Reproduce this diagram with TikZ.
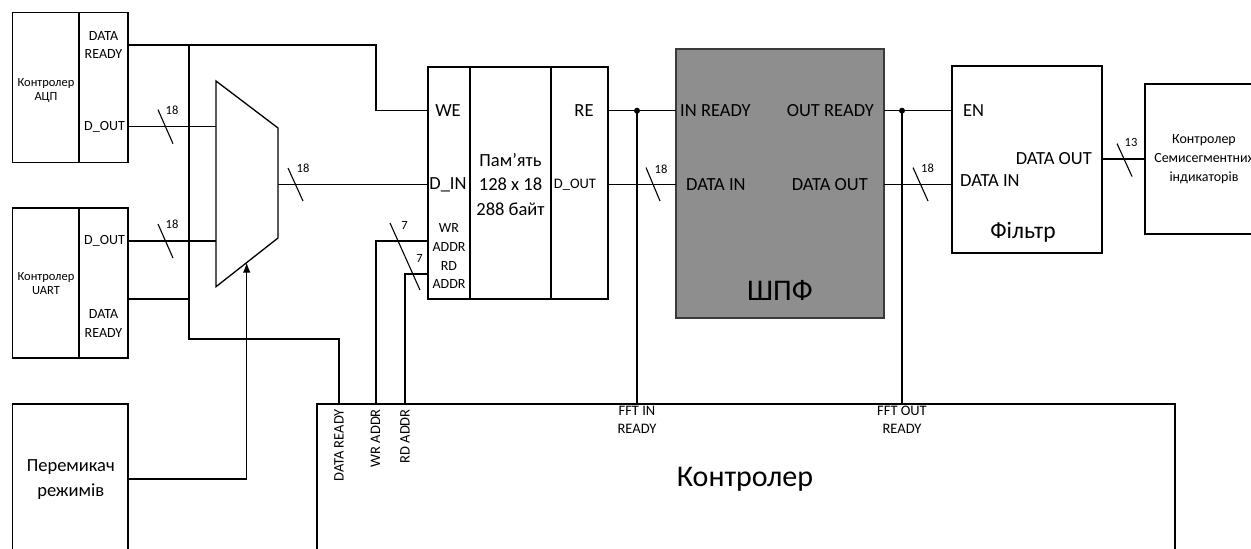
\documentclass[tikz,border=0pt]{standalone}
\usepackage{fontspec}
\setmainfont{Carlito}
\usetikzlibrary{arrows.meta}
\definecolor{fftgray}{HTML}{8E8E8E}
\definecolor{fftborder}{HTML}{3A3A3A}
\begin{document}
\begin{tikzpicture}[x=1pt,y=-1pt,
  blk/.style={draw=black, line width=1.3pt, inner sep=0pt, outer sep=0pt},
  divider/.style={draw=black, line width=1.3pt},
  wire/.style={draw=black, line width=1.1pt},
  busmark/.style={draw=black, line width=1.1pt},
  lbl/.style={inner sep=0pt, align=center},
  fsm/.style={lbl, font=\fontsize{12.5}{14}\selectfont},
  fnum/.style={lbl, font=\fontsize{12.5}{14}\selectfont},
  fmid/.style={lbl, font=\fontsize{14}{18.5}\selectfont},
  fctl/.style={lbl, font=\fontsize{14.5}{18}\selectfont},
  fbig/.style={lbl, font=\fontsize{18.5}{24.5}\selectfont},
  fhuge/.style={lbl, font=\fontsize{30}{34}\selectfont},
  dotc/.style={fill=black}
]
\useasboundingbox (0,0) rectangle (1251,549);
\clip (0,0) rectangle (1251,549);

% ---------- blocks ----------
\node[blk, minimum width=115.3pt, minimum height=150pt] (adc) at (70.35,87.7) {};
\draw[divider] (79,12.7) -- (79,162.7);
\node[fsm] (adcname) at (46,90) {Контролер\\АЦП};
\node[fmid] (adcdrl) at (103.5,45) {DATA\\READY};
\node[fmid] (adcdol) at (104.5,126.7) {D\_OUT};

\node[blk, minimum width=115.3pt, minimum height=150pt] (uart) at (70.35,283) {};
\draw[divider] (79,208) -- (79,358);
\node[fsm] (uartname) at (46,284) {Контролер\\UART};
\node[fmid] (uartdol) at (104.5,241) {D\_OUT};
\node[fmid] (uartdrl) at (103.5,323.5) {DATA\\READY};

\node[blk, minimum width=115.3pt, minimum height=156pt] (sw) at (70.35,482) {};
\node[fbig] (swname) at (70.8,479.5) {Перемикач\\режимів};

% multiplexer
\draw[blk] (216,81) -- (278,128) -- (278,238) -- (216,286.7) -- cycle;
\coordinate (muxin1) at (216,126.7);
\coordinate (muxin2) at (216,241);
\coordinate (muxout) at (278,184.5);
\coordinate (muxsel) at (246.7,262.6);

% memory
\node[blk, minimum width=180pt, minimum height=232pt] (mem) at (518,183) {};
\draw[divider] (470,67) -- (470,299);
\draw[divider] (551,67) -- (551,299);
\node[fbig] (memwe) at (448,110.7) {WE};
\node[fbig] (memdin) at (448,184.5) {D\_IN};
\node[fmid] (memwr) at (449,237.5) {WR\\ADDR};
\node[fmid] (memrd) at (449,275) {RD\\ADDR};
\node[fbig] (memname) at (510.5,184.5) {Пам’ять\\128 x 18\\288 байт};
\node[fbig] (memre) at (584,110.7) {RE};
\node[fctl] (memdol) at (575,184.5) {D\_OUT};

% FFT
\node[draw=fftborder, fill=fftgray, line width=2pt, inner sep=0pt, minimum width=208pt, minimum height=269pt] (fft) at (780,183.5) {};
\node[fbig, anchor=west] (fftir) at (680,110.7) {IN READY};
\node[fbig, anchor=west] (fftdi) at (686,184.5) {DATA IN};
\node[fbig, anchor=east] (fftor) at (874,110.7) {OUT READY};
\node[fbig, anchor=east] (fftdo) at (868,184.5) {DATA OUT};
\node[fhuge] (fftname) at (780,290) {ШПФ};

% filter
\node[blk, minimum width=150pt, minimum height=187pt] (fil) at (1027,159.5) {};
\node[fbig, anchor=west] (filen) at (963,110.7) {EN};
\node[fbig, anchor=east] (fildo) at (1092,159) {DATA OUT};
\node[fbig, anchor=west] (fildi) at (960,181) {DATA IN};
\node[lbl, font=\fontsize{23.5}{26}\selectfont] (filname) at (1023,232) {Фільтр};

% seven-segment controller
\node[blk, minimum width=118pt, minimum height=150pt] (seg) at (1204,159) {};
\node[lbl, font=\fontsize{14}{19}\selectfont] (segname) at (1204,159.5) {Контролер\\Семисегментних\\індикаторів};

% main controller
\node[blk, minimum width=858pt, minimum height=156pt] (ctrl) at (746,482) {};
\node[fhuge] (ctrlname) at (745,479) {Контролер};
\node[fctl, rotate=90, anchor=east] (cdr) at (339,409) {DATA READY};
\node[fctl, rotate=90, anchor=east] (cwr) at (375.5,409) {WR ADDR};
\node[fctl, rotate=90, anchor=east] (crd) at (405,409) {RD ADDR};
\node[fctl, anchor=north] (cfi) at (637,406) {FFT IN\\READY};
\node[fctl, anchor=north] (cfo) at (902,406) {FFT OUT\\READY};

% ---------- port coordinates ----------
\coordinate (adcDRp) at (128,45);
\coordinate (adcDOp) at (128,126.7);
\coordinate (uartDOp) at (128,241);
\coordinate (uartDRp) at (128,299);
\coordinate (j1) at (189,45);
\coordinate (j2) at (189,299);
\coordinate (swp) at (128,479);
\coordinate (memWE) at (428,110.7);
\coordinate (memDI) at (428,184.5);
\coordinate (memWR) at (428,241);
\coordinate (memRD) at (428,274);
\coordinate (memRE) at (608,110.7);
\coordinate (memDO) at (608,184.5);
\coordinate (fftIR) at (676,110.7);
\coordinate (fftDI) at (676,184.5);
\coordinate (fftOR) at (884,110.7);
\coordinate (fftDO) at (884,184.5);
\coordinate (filEN) at (952,110.7);
\coordinate (filDI) at (952,184.5);
\coordinate (filDO) at (1102,159);
\coordinate (segIn) at (1145,159);
\coordinate (ctrlDR) at (339,404);
\coordinate (ctrlWR) at (376,404);
\coordinate (ctrlRD) at (405,404);
\coordinate (ctrlFI) at (637,404);
\coordinate (ctrlFO) at (902,404);
\coordinate (dot1) at (637,110.7);
\coordinate (dot2) at (902,110.7);

% ---------- connectors ----------
\draw[wire] (adcDRp) -- (376,45) |- (memWE);
\draw[wire] (j1) -- (189,339) -| (ctrlDR);
\draw[wire] (uartDRp) -- (j2);
\draw[wire] (adcDOp) -- (muxin1);
\draw[wire] (uartDOp) -- (muxin2);
\draw[wire] (muxout) -- (memDI);
\draw[wire, -{Latex[length=10pt,width=7.5pt]}] (swp) -| (muxsel);
\draw[wire] (ctrlWR) |- (memWR);
\draw[wire] (ctrlRD) |- (memRD);
\draw[wire] (memRE) -- (fftIR);
\draw[wire] (dot1) -- (ctrlFI);
\fill[dotc] (dot1) circle (3pt);
\draw[wire] (memDO) -- (fftDI);
\draw[wire] (fftOR) -- (filEN);
\draw[wire] (dot2) -- (ctrlFO);
\fill[dotc] (dot2) circle (3pt);
\draw[wire] (fftDO) -- (filDI);
\draw[wire] (filDO) -- (segIn);

% ---------- bus width marks ----------
\draw[busmark] (158,109.7) -- (173,143.7);
\node[fnum] (b1) at (172,110.5) {18};
\draw[busmark] (158,224) -- (173,258);
\node[fnum] (b2) at (172,224) {18};
\draw[busmark] (288,168) -- (303,201);
\node[fnum] (b3) at (303,168) {18};
\draw[busmark] (646,167.5) -- (660,201);
\node[fnum] (b4) at (661,169) {18};
\draw[busmark] (913,167.5) -- (928,201);
\node[fnum] (b5) at (927.5,168.5) {18};
\draw[busmark] (1117,143.5) -- (1132,176.5);
\node[fnum] (b6) at (1131,142.5) {13};
\draw[busmark] (390,223) -- (405,256.5);
\draw[busmark] (405,256.5) -- (420,290);
\node[fnum] (b7) at (404.5,225) {7};
\node[fnum] (b8) at (419.5,258) {7};
\end{tikzpicture}
\end{document}
